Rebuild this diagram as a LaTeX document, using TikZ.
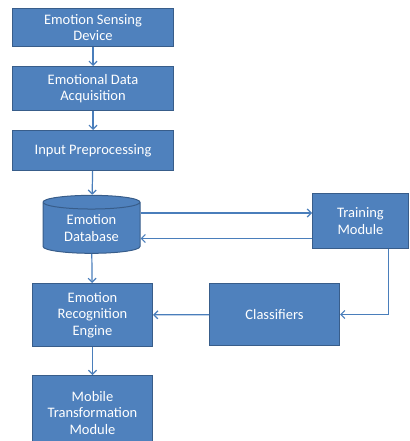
\documentclass[tikz,border=0pt]{standalone}
\usepackage{fontspec}
\setmainfont{Carlito}
\usetikzlibrary{positioning, arrows.meta, shapes.geometric}
\definecolor{boxblue}{HTML}{4F81BD}
\definecolor{boxedge}{HTML}{385D8A}
\definecolor{linkblue}{HTML}{4A7EBB}

\begin{document}
\begin{tikzpicture}[x=1pt, y=-1pt, every node/.style={align=center}]
\tikzset{
  block/.style={
    rectangle, draw=boxedge, line width=1pt, fill=boxblue, text=white,
    font=\fontsize{14.5}{16.5}\selectfont, anchor=north west, inner sep=0pt
  },
  store/.style={
    cylinder, shape border rotate=90, aspect=0.25, draw=boxedge, line width=1pt,
    fill=boxblue, text=white, font=\fontsize{14.5}{16.5}\selectfont, inner sep=0pt
  },
  link/.style={line width=1.2pt, draw=linkblue, -{Straight Barb[length=4pt,width=8pt]}}
}
\useasboundingbox (0,0) rectangle (409,441);

\node (sensing) [block, minimum width=161pt, minimum height=38pt] at (12,8) {Emotion Sensing\\Device};
\node (acquisition) [block, minimum width=161pt, minimum height=44pt] at (12,66) {Emotional Data\\Acquisition};
\node (preproc) [block, minimum width=161pt, minimum height=40pt] at (12,130) {Input Preprocessing};
\node (database) [store, minimum width=97pt, minimum height=58pt] at (91.5,228) {Emotion\\Database};
\node (training) [block, minimum width=96pt, minimum height=55pt] at (312,193) {Training\\Module};
\node (classifiers) [block, minimum width=130pt, minimum height=62pt] at (209,283) {Classifiers};
\node (engine) [block, minimum width=120pt, minimum height=63pt] at (32,283) {Emotion\\Recognition\\Engine};
\node (mobile) [block, minimum width=120pt, minimum height=75pt] at (32,375) {Mobile\\Transformation\\Module};

\draw [link] (sensing) -- (acquisition);
\draw [link] (acquisition) -- (preproc);
\draw [link] (preproc) -- (database);
\draw [link] ([yshift=15pt]database.east) -- ([yshift=15pt]database.east -| training.west);
\draw [link] ([yshift=-17.5pt]training.west) -- ([yshift=-17.5pt]training.west -| database.east);
\draw [link] ([xshift=28pt]training.south) |- (classifiers.east);
\draw [link] (classifiers) -- (engine);
\draw [link] (database) -- (engine);
\draw [link] (engine) -- (mobile);
\end{tikzpicture}
\end{document}
